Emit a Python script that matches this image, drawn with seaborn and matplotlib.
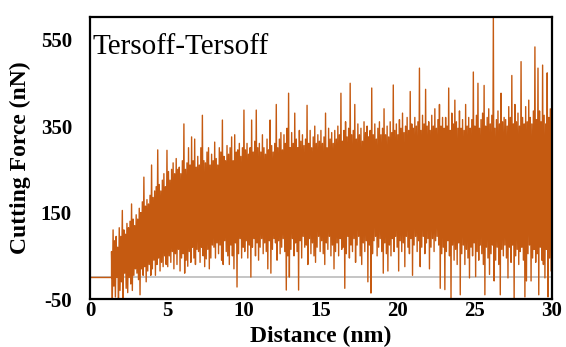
import numpy as np
import pandas as pd
import seaborn as sns
import matplotlib.pyplot as plt

# Cutting force envelope, one peak/trough pair per 0.1 nm
contact_start = 1.4   # nm, force is zero before the tool touches
step = 0.1

force_peaks = [
    60, 110, 85, 95, 70, 115,
    95, 155, 110, 100, 125, 115, 130, 170, 135, 120,
    145, 135, 160, 150, 175, 232, 165, 180, 170, 190,
    260, 185, 200, 210, 295, 215, 200, 225, 240, 210,
    294, 245, 225, 250, 265, 240, 275, 250, 255, 240,
    270, 355, 250, 265, 300, 260, 325, 270, 320, 255,
    280, 260, 300, 375, 270, 265, 290, 300, 260, 285,
    270, 313, 275, 260, 300, 290, 364, 280, 270, 305,
    285, 300, 325, 270, 330, 290, 295, 310, 280, 300,
    387, 295, 310, 285, 300, 364, 290, 315, 387, 300,
    310, 290, 330, 300, 285, 320, 295, 364, 305, 290,
    310, 400, 300, 320, 335, 295, 330, 310, 345, 426,
    300, 335, 310, 380, 320, 300, 340, 315, 330, 305,
    320, 398, 310, 340, 300, 325, 350, 310, 330, 315,
    340, 310, 325, 380, 300, 345, 320, 335, 310, 340,
    320, 350, 330, 426, 315, 340, 360, 325, 345, 449,
    330, 340, 400, 320, 355, 330, 345, 315, 360, 335,
    350, 325, 340, 438, 330, 355, 320, 345, 360, 330,
    345, 390, 330, 350, 325, 360, 335, 445, 340, 355,
    330, 365, 345, 380, 335, 350, 370, 340, 430, 355,
    345, 370, 350, 360, 484, 340, 375, 355, 435, 350,
    360, 340, 375, 350, 390, 345, 365, 400, 350, 370,
    345, 370, 350, 438, 340, 380, 355, 410, 360, 345,
    385, 345, 365, 340, 400, 350, 370, 345, 365, 475,
    350, 375, 449, 345, 365, 380, 444, 350, 370, 390,
    355, 375, 600, 345, 365, 385, 355, 426, 360, 370,
    365, 350, 395, 370, 467, 355, 400, 360, 380, 350,
    499, 370, 355, 395, 360, 410, 370, 355, 385, 533,
    365, 484, 385, 360, 491, 375, 355, 473, 370, 390,
    380,
]

force_troughs = [
    -50, -20, -45, 0, -50, -30,
    -10, -50, 10, -25, -35, 0, -15, -30, 5, 20,
    10, -5, -40, 20, 5, 25, -10, 15, 30, 5,
    20, 40, 5, 30, 45, 15, 35, 25, 50, 30,
    25, 50, 35, 60, 20, 55, 30, 65, 15, 45,
    55, 10, 40, 26, 60, 35, 70, 45, 30, 65,
    60, 35, 70, 50, 25, 43, 65, 20, 45, 75,
    70, 45, 80, 55, 75, 40, 30, 85, 60, 50,
    30, 75, 50, 20, 80, -22, 55, 90, 45, 70,
    60, 85, 45, 75, 1, 70, 90, 50, 80, 40,
    70, 90, 55, 80, 60, 20, 85, 10, 65, 90,
    80, 40, 85, 55, 70, 90, 60, -29, 50, 1,
    65, 90, 50, 80, 60, -29, 85, 45, 95, 70,
    75, 30, 90, 55, 80, 50, 35, 70, 95, 60,
    85, 55, 30, 80, 65, 95, 50, 75, 20, 60,
    80, 50, 90, 65, 70, -25, 55, 95, 45, 75,
    60, 90, 35, 75, 95, 50, 30, 80, 60, 85,
    -10, 75, -36, 55, 85, 95, 50, 70, 90, 60,
    10, 80, 55, 15, 75, 50, 90, 60, 95, 70,
    15, 85, 60, 80, 25, 95, 70, 55, 90, 5,
    75, 95, 60, 85, 25, 70, 95, 55, 80, 90,
    20, 70, 90, 60, 85, 95, 75, -25, 55, 70,
    -28, 60, 85, 50, -48, 75, 40, 65, 30, 80,
    -40, 55, 75, 30, 65, 45, -1, 70, 50, 80,
    2, 60, 40, 75, 55, 30, -40, 70, 45, 7,
    55, 75, -8, 40, 70, 30, -40, 65, 50, 75,
    45, -1, 70, 35, 75, -50, 50, 65, 30, 60,
    70, 40, -45, -8, 55, 75, -8, 45, 65, 35,
    55, -40, 70, 40, 30, -1, 65, -45, 45, 15,
    60,
]

y_ticks = [-50, 150, 350, 550]
x_ticks = [0, 5, 10, 15, 20, 25, 30]

# build the zigzag trace: flat zero before contact, then peak/trough pairs
dist = contact_start + step * np.arange(len(force_peaks))
xs = [0.0, contact_start]
ys = [0.0, 0.0]
for d, hi, lo in zip(dist, force_peaks, force_troughs):
    xs += [d, d + step / 2]
    ys += [hi, lo]
df = pd.DataFrame({'distance': xs, 'force': ys})

sns.set_theme(style='white')
plt.rcParams['font.family'] = ['Liberation Serif', 'DejaVu Serif']
plt.rcParams['axes.unicode_minus'] = False
plt.rcParams['text.color'] = 'black'
plt.rcParams['axes.labelcolor'] = 'black'
plt.rcParams['xtick.color'] = 'black'
plt.rcParams['ytick.color'] = 'black'

fig = plt.figure(figsize=(5.66, 3.47), dpi=100)
ax = fig.add_axes([0.159, 0.138, 0.816, 0.814])

ax.axhline(0, color='#c0c0c0', lw=1.3, zorder=1)
sns.lineplot(data=df, x='distance', y='force', ax=ax, sort=False,
             estimator=None, color='#c55a11', lw=1.0, zorder=2)

ax.set_xlim(0, 30)
ax.set_ylim(-50, 603)
ax.set_xticks(x_ticks)
ax.set_yticks(y_ticks)
ax.tick_params(length=0)
ax.tick_params(axis='y', pad=13)
ax.tick_params(axis='x', pad=1)
for lab in ax.get_xticklabels() + ax.get_yticklabels():
    lab.set_fontweight('bold')
    lab.set_fontsize(15)

ax.set_xlabel('Distance (nm)', fontsize=17, fontweight='bold', labelpad=4)
ax.set_ylabel('Cutting Force (nN)', fontsize=17, fontweight='bold', labelpad=7)

for s in ax.spines.values():
    s.set_color('black')
    s.set_linewidth(1.6)

ax.text(0.006, 0.893, 'Tersoff-Tersoff', transform=ax.transAxes,
        fontsize=21, va='center', ha='left')

fig.savefig('out.png', dpi=100)
